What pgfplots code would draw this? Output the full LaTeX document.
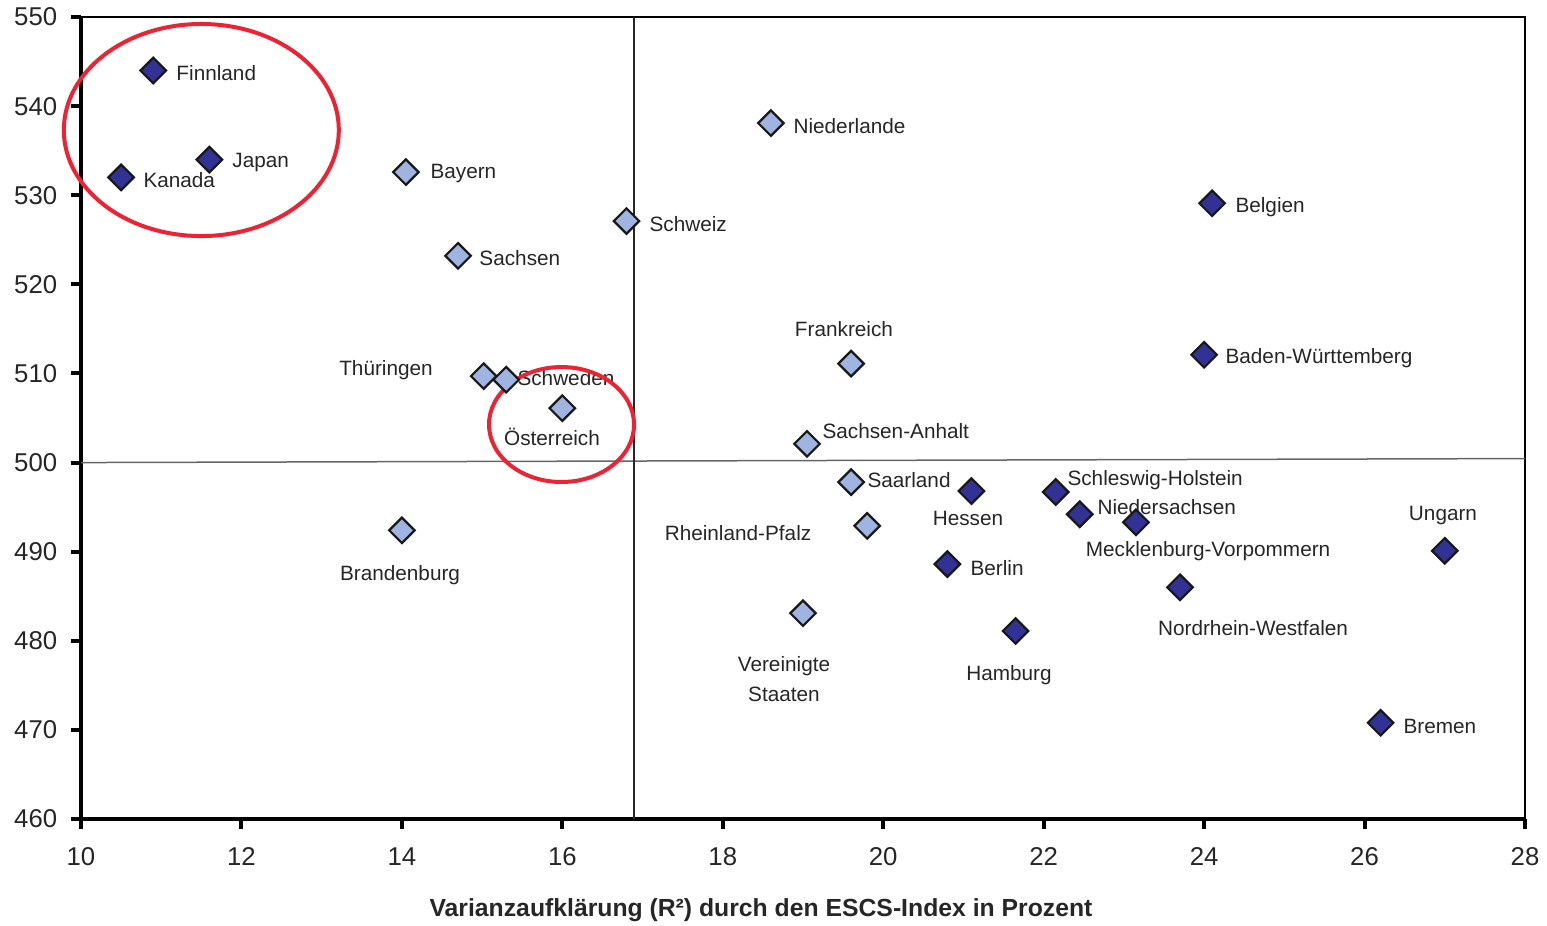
\documentclass[border=0pt]{standalone}
\usepackage{fontspec}
\setmainfont{Liberation Sans}
\usepackage{pgfplots}
\pgfplotsset{compat=1.18}
\definecolor{darkpt}{RGB}{50,50,150}
\definecolor{lightpt}{RGB}{160,180,225}
\definecolor{ringred}{RGB}{238,34,51}
\begin{document}
\begin{tikzpicture}
\useasboundingbox (-32.4pt,-42.4pt) rectangle (586.4pt,327.6pt);
\begin{axis}[
  scale only axis,
  width=577.6pt, height=320.8pt,
  xmin=10, xmax=28, ymin=460, ymax=550,
  xtick={10,12,...,28}, ytick={460,470,...,550},
  xtick pos=bottom, ytick pos=left,
  tick align=outside, major tick length=4pt,
  every tick/.style={black, line width=1.6pt},
  axis line style={black, line width=0.8pt},
  /pgf/number format/assume math mode=true,
  ticklabel style={font=\fontsize{10.3}{12}\selectfont, text=black!85},
  yticklabel style={xshift=-2pt},
  xticklabel style={yshift=-4pt},
  xlabel={Varianzaufklärung (R²) durch den ESCS-Index in Prozent},
  xlabel style={at={(rel axis cs:0.4709,0)}, anchor=center, yshift=-36.4pt,
    font=\fontsize{9.9}{12}\selectfont\bfseries, text=black!85},
  clip=false,
]
% thick left and bottom axis lines
\draw[black, line width=1.6pt] (rel axis cs:0,1) -- (rel axis cs:0,0) -- (rel axis cs:1,0);
% reference lines
\draw[black!60, line width=0.6pt] (axis cs:10,500) -- (axis cs:28,500.45);
\draw[black!85, line width=0.8pt] (axis cs:16.89,460) -- (axis cs:16.89,550);

% dark points
\addplot[only marks, mark=square*, mark size=3.6pt,
  mark options={fill=darkpt, draw=black!90, rotate=45, line width=0.9pt}] table {
x y
10.9 544.0
11.6 534.0
10.5 532.0
24.1 529.1
24.0 512.1
21.1 496.8
22.15 496.7
22.45 494.2
23.15 493.3
27.0 490.1
20.8 488.6
23.7 486.0
21.65 481.1
26.2 470.8
};
% light points
\addplot[only marks, mark=square*, mark size=3.6pt,
  mark options={fill=lightpt, draw=black!90, rotate=45, line width=0.9pt}] table {
x y
18.6 538.1
14.05 532.6
14.7 523.2
16.8 527.1
19.6 511.1
15.02 509.7
15.3 509.3
16.0 506.1
19.05 502.1
19.6 497.8
19.8 492.9
14.0 492.4
19.0 483.1
};

\begin{scope}[every node/.style={inner sep=0pt, yshift=-0.8pt, font=\fontsize{8.3}{12}\selectfont, text=black!85}]
\node[anchor=west] at (axis cs:11.184,543.94) {Finnland};
\node[anchor=west] at (axis cs:11.882,533.95) {Japan};
\node[anchor=west] at (axis cs:10.773,531.93) {Kanada};
\node[anchor=west] at (axis cs:14.351,532.61) {Bayern};
\node[anchor=west] at (axis cs:14.961,523.18) {Sachsen};
\node[anchor=west] at (axis cs:17.081,526.99) {Schweiz};
\node[anchor=west] at (axis cs:18.876,537.99) {Niederlande};
\node[anchor=west] at (axis cs:24.385,528.90) {Belgien};
\node[anchor=west] at (axis cs:24.261,511.96) {Baden-Württemberg};
\node at (axis cs:19.511,515.21) {Frankreich};
\node at (axis cs:13.802,510.61) {Thüringen};
\node[anchor=west] at (axis cs:15.435,509.71) {Schweden};
\node at (axis cs:15.871,503.09) {Österreich};
\node[anchor=west] at (axis cs:19.237,503.77) {Sachsen-Anhalt};
\node[anchor=west] at (axis cs:19.798,498.27) {Saarland};
\node at (axis cs:18.190,492.32) {Rheinland-Pfalz};
\node at (axis cs:21.057,494.00) {Hessen};
\node[anchor=west] at (axis cs:22.291,498.27) {Schleswig-Holstein};
\node[anchor=west] at (axis cs:22.665,495.24) {Niedersachsen};
\node at (axis cs:24.049,490.30) {Mecklenburg-Vorpommern};
\node at (axis cs:26.978,494.23) {Ungarn};
\node at (axis cs:13.977,487.60) {Brandenburg};
\node[anchor=west] at (axis cs:21.082,488.39) {Berlin};
\node at (axis cs:24.610,481.66) {Nordrhein-Westfalen};
\node[align=center] at (axis cs:18.763,475.93) {Vereinigte\\Staaten};
\node at (axis cs:21.568,476.38) {Hamburg};
\node[anchor=west] at (axis cs:26.480,470.66) {Bremen};
\end{scope}

% red rings
\draw[ringred, line width=1.6pt] (axis cs:11.50,537.32) ellipse [x radius=1.714, y radius=11.9];
\draw[ringred, line width=1.6pt] (axis cs:15.99,504.27) ellipse [x radius=0.904, y radius=6.45];
\end{axis}
\end{tikzpicture}
\end{document}
